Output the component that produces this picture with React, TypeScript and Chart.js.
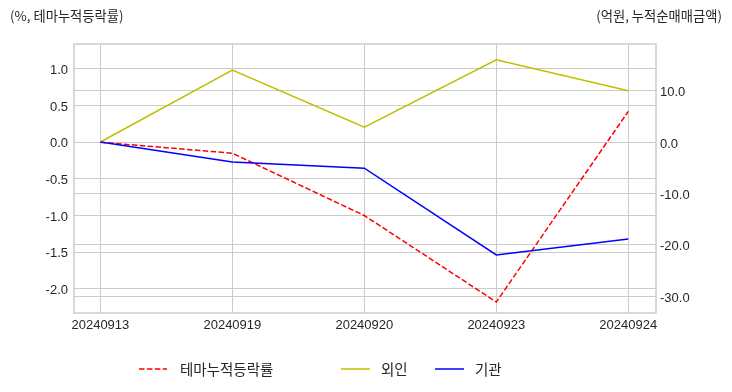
import React, { useEffect, useRef } from "react";
import { Chart, registerables } from "chart.js";

Chart.register(...registerables);

const dates = ["20240913", "20240919", "20240920", "20240923", "20240924"];
const themeReturn = [0.0, -0.15, -1.0, -2.18, 0.42];
const foreignNet = [0.0, 14.0, 2.9, 16.0, 10.0];
const institutionNet = [0.0, -3.9, -5.1, -22.0, -18.9];
const leftTicks = [1.0, 0.5, 0.0, -0.5, -1.0, -1.5, -2.0];
const rightTicks = [10, 0, -10, -20, -30];
const seriesNames = ["테마누적등락률", "외인", "기관"];
const leftTitle = "(%, 테마누적등락률)";
const rightTitle = "(억원, 누적순매매금액)";

const FONT = "'Liberation Sans', 'Noto Sans CJK KR', sans-serif";
const KFONT = "'Noto Sans CJK KR', 'Liberation Sans', sans-serif";
const TEXT = "#262626";
const GRID = "#cccccc";
const RED = "#ff0000";
const OLIVE = "#bfbf00";
const BLUE = "#0000ff";

export default function App() {
  const ref = useRef<HTMLCanvasElement | null>(null);

  useEffect(() => {
    if (!ref.current) return;
    const toPts = (arr: number[]) => arr.map((v, i) => ({ x: i, y: v }));

    const decor = {
      id: "decor",
      afterDraw(chart: any) {
        const { ctx, chartArea } = chart;
        ctx.save();
        ctx.strokeStyle = GRID;
        ctx.lineWidth = 1.5;
        ctx.strokeRect(chartArea.left, chartArea.top, chartArea.right - chartArea.left, chartArea.bottom - chartArea.top);
        ctx.fillStyle = TEXT;
        ctx.font = `13.3px ${KFONT}`;
        ctx.textBaseline = "middle";
        ctx.textAlign = "left";
        ctx.fillText(leftTitle, 10, 16);
        ctx.textAlign = "right";
        ctx.fillText(rightTitle, 722, 16);

        const items = [
          { label: seriesNames[0], color: RED, dash: [5.5, 2.4], x0: 139, x1: 167, tx: 180 },
          { label: seriesNames[1], color: OLIVE, dash: [], x0: 341, x1: 370, tx: 381 },
          { label: seriesNames[2], color: BLUE, dash: [], x0: 435, x1: 464, tx: 475 },
        ];
        const ly = 369;
        ctx.font = `14.5px ${KFONT}`;
        ctx.textAlign = "left";
        for (const it of items) {
          ctx.strokeStyle = it.color;
          ctx.lineWidth = 1.5;
          ctx.setLineDash(it.dash);
          ctx.beginPath();
          ctx.moveTo(it.x0, ly);
          ctx.lineTo(it.x1, ly);
          ctx.stroke();
          ctx.setLineDash([]);
          ctx.fillStyle = TEXT;
          ctx.fillText(it.label, it.tx, ly);
        }
        ctx.restore();
      },
    };

    const chart = new Chart(ref.current, {
      type: "line",
      data: {
        datasets: [
          {
            label: seriesNames[0],
            data: toPts(themeReturn),
            borderColor: RED,
            borderWidth: 1.5,
            borderDash: [5.5, 2.4],
            pointRadius: 0,
            yAxisID: "y",
            order: 2,
          },
          {
            label: seriesNames[1],
            data: toPts(foreignNet),
            borderColor: OLIVE,
            borderWidth: 1.5,
            pointRadius: 0,
            yAxisID: "y1",
            order: 1,
          },
          {
            label: seriesNames[2],
            data: toPts(institutionNet),
            borderColor: BLUE,
            borderWidth: 1.5,
            pointRadius: 0,
            yAxisID: "y1",
            order: 0,
          },
        ],
      },
      options: {
        animation: false,
        responsive: false,
        devicePixelRatio: 1,
        layout: { padding: { top: 44, left: 0, right: 0, bottom: 0 } },
        plugins: { legend: { display: false }, tooltip: { enabled: false } },
        elements: { line: { tension: 0 } },
        scales: {
          x: {
            type: "linear",
            min: -0.2,
            max: 4.21,
            afterBuildTicks: (s: any) => {
              s.ticks = dates.map((_, i) => ({ value: i }));
            },
            afterFit: (s: any) => {
              s.height = 79;
            },
            ticks: {
              callback: (v: any) => dates[v as number] ?? "",
              color: TEXT,
              font: { family: FONT, size: 13 },
              padding: 5,
              maxRotation: 0,
              autoSkip: false,
            },
            grid: { color: GRID, lineWidth: 1, drawTicks: false },
            border: { display: false },
          },
          y: {
            type: "linear",
            position: "left",
            min: -2.33,
            max: 1.34,
            afterBuildTicks: (s: any) => {
              s.ticks = leftTicks.map((v) => ({ value: v }));
            },
            afterFit: (s: any) => {
              s.width = 74;
            },
            ticks: {
              callback: (v: any) => Number(v).toFixed(1),
              color: TEXT,
              font: { family: FONT, size: 13 },
              padding: 6,
              labelOffset: 1.5,
            },
            grid: { color: GRID, lineWidth: 1, drawTicks: false },
            border: { display: false },
          },
          y1: {
            type: "linear",
            position: "right",
            min: -33.3,
            max: 19.09,
            afterBuildTicks: (s: any) => {
              s.ticks = rightTicks.map((v) => ({ value: v }));
            },
            afterFit: (s: any) => {
              s.width = 76;
            },
            ticks: {
              callback: (v: any) => Number(v).toFixed(1),
              color: TEXT,
              font: { family: FONT, size: 13 },
              padding: 4,
              labelOffset: 2,
            },
            grid: { color: GRID, lineWidth: 1, drawTicks: false },
            border: { display: false },
          },
        },
      },
      plugins: [decor],
    } as any);

    return () => chart.destroy();
  }, []);

  return (
    <div style={{ position: "absolute", left: 0, top: 0, width: 732, height: 392, background: "#fff" }}>
      <canvas ref={ref} width={732} height={392} style={{ width: 732, height: 392, display: "block" }} />
    </div>
  );
}
